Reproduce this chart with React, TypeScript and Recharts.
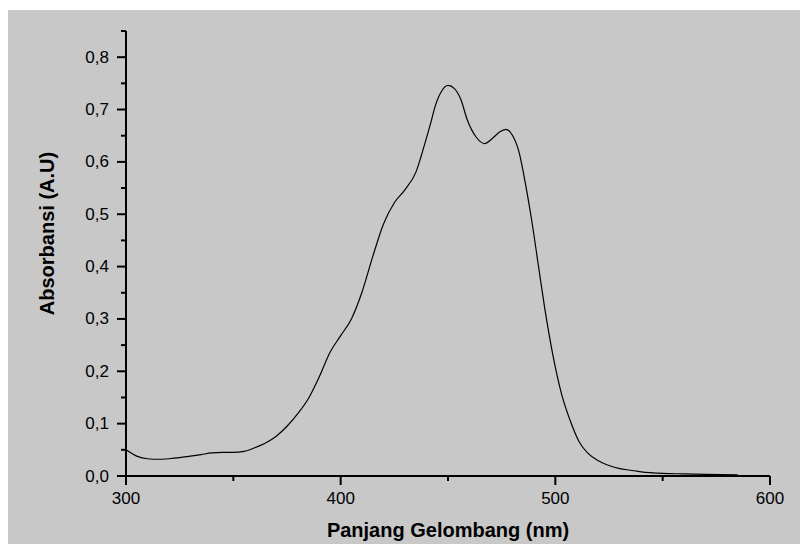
import React from "react";
import { LineChart, Line, XAxis, YAxis } from "recharts";

const wavelength = [
  300, 305, 310, 315, 320, 325, 330, 335, 340, 345, 350, 355, 360, 365, 370, 375, 380, 385, 390, 395,
  400, 405, 410, 415, 420, 425, 430, 435, 439, 442, 444, 447, 450, 453, 456, 459, 463, 467, 471, 474,
  477, 480, 483, 486, 489, 492, 495, 499, 503, 507, 511, 515, 520, 525, 530, 535, 540, 550, 560, 570, 585,
];
const absorbance = [
  0.05, 0.038, 0.033, 0.032, 0.033, 0.035, 0.038, 0.041, 0.044, 0.045, 0.045, 0.047, 0.054, 0.063, 0.076, 0.095, 0.119, 0.148, 0.189, 0.236,
  0.268, 0.3, 0.352, 0.42, 0.482, 0.522, 0.547, 0.58, 0.632, 0.675, 0.706, 0.735, 0.746, 0.74, 0.719, 0.68, 0.648, 0.635, 0.646, 0.657,
  0.662, 0.651, 0.62, 0.56, 0.488, 0.405, 0.322, 0.228, 0.155, 0.105, 0.066, 0.044, 0.029, 0.02, 0.014, 0.011, 0.008, 0.005, 0.004, 0.003, 0.002,
];

const xTicks = [300, 350, 400, 450, 500, 550, 600];
const xLabeled = [300, 400, 500, 600];
const yTicks = [0, 0.05, 0.1, 0.15, 0.2, 0.25, 0.3, 0.35, 0.4, 0.45, 0.5, 0.55, 0.6, 0.65, 0.7, 0.75, 0.8, 0.85];
const yLabeled = ["0,0", "0,1", "0,2", "0,3", "0,4", "0,5", "0,6", "0,7", "0,8"];

const data = wavelength.map((nm, i) => ({ nm, a: absorbance[i] }));

const FONT = '"Liberation Sans", Arial, sans-serif';

const fmtY = (v: number) => v.toFixed(1).replace(".", ",");

const XTick = (props: any) => {
  const { x, y, payload } = props;
  const major = xLabeled.includes(payload.value);
  return (
    <g>
      <line x1={x} y1={y} x2={x} y2={y + (major ? 9 : 5)} stroke="#000" strokeWidth={2} />
      {major && (
        <text x={x} y={y + 28} textAnchor="middle" fontSize={17} fontFamily={FONT} fill="#000">
          {payload.value}
        </text>
      )}
    </g>
  );
};

const YTick = (props: any) => {
  const { x, y, payload } = props;
  const label = fmtY(payload.value);
  const major = yLabeled.includes(label) && Math.abs(payload.value * 10 - Math.round(payload.value * 10)) < 1e-6;
  return (
    <g>
      <line x1={x - (major ? 9 : 5)} y1={y} x2={x} y2={y} stroke="#000" strokeWidth={2} />
      {major && (
        <text x={x - 17} y={y} textAnchor="end" dominantBaseline="central" fontSize={17} fontFamily={FONT} fill="#000">
          {label}
        </text>
      )}
    </g>
  );
};

const XTitle = (props: any) => {
  const { viewBox } = props;
  return (
    <text
      x={viewBox.x + viewBox.width / 2}
      y={viewBox.y + 61}
      textAnchor="middle"
      fontSize={20}
      fontWeight="bold"
      fontFamily={FONT}
      fill="#000"
    >
      Panjang Gelombang (nm)
    </text>
  );
};

const YTitle = (props: any) => {
  const { viewBox } = props;
  const cx = viewBox.x + 45.5;
  const cy = viewBox.y + viewBox.height / 2 - 20;
  return (
    <text
      x={cx}
      y={cy}
      transform={`rotate(-90 ${cx} ${cy})`}
      textAnchor="middle"
      fontSize={20}
      fontWeight="bold"
      fontFamily={FONT}
      fill="#000"
    >
      Absorbansi (A.U)
    </text>
  );
};

export default function App() {
  return (
    <div style={{ position: "absolute", left: 8, top: 10, width: 792, height: 534, background: "#c8c8c8" }}>
      <LineChart width={792} height={534} data={data} margin={{ top: 21, right: 30, left: 0, bottom: 0 }}>
        <XAxis
          dataKey="nm"
          type="number"
          domain={[300, 600]}
          ticks={xTicks}
          allowDataOverflow
          height={68}
          tickSize={0}
          tickMargin={0}
          tickLine={false}
          tick={<XTick />}
          axisLine={{ stroke: "#000", strokeWidth: 2 }}
          label={<XTitle />}
          interval={0}
        />
        <YAxis
          type="number"
          domain={[0, 0.85]}
          ticks={yTicks}
          allowDataOverflow
          width={118}
          tickSize={0}
          tickMargin={0}
          tickLine={false}
          tick={<YTick />}
          axisLine={{ stroke: "#000", strokeWidth: 2 }}
          label={<YTitle />}
          interval={0}
        />
        <Line
          type="monotone"
          dataKey="a"
          stroke="#000"
          strokeWidth={1.2}
          dot={false}
          activeDot={false}
          isAnimationActive={false}
        />
      </LineChart>
    </div>
  );
}
